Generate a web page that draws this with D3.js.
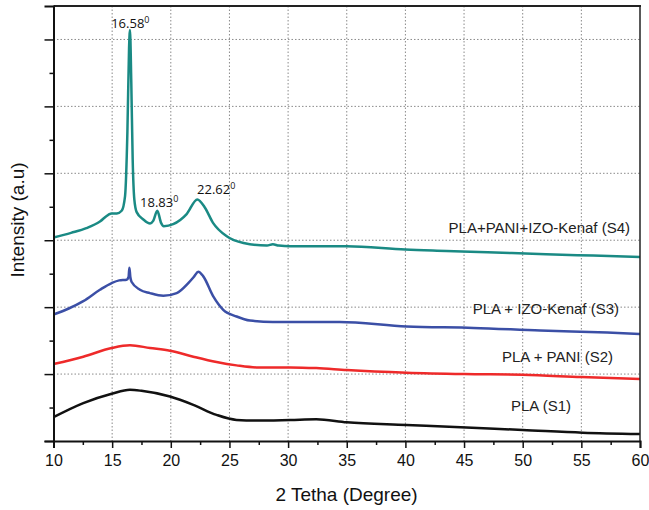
<!DOCTYPE html>
<html>
<head>
<meta charset="utf-8">
<script src="https://cdn.jsdelivr.net/npm/d3@7"></script>
<style>
html,body{margin:0;padding:0;background:#fff;}
svg{display:block;}
</style>
</head>
<body>
<script>
// ---- data ----
const xTicks = [10,15,20,25,30,35,40,45,50,55,60];
const s4x = [10,11.5,12.8,13.96,14.67,14.96,15.4,15.81,16.1,16.3,16.44,16.52,16.63,16.75,16.89,17.09,17.66,18.23,18.5,18.85,19.17,19.4,20.2,21.35,22.26,22.9,23.6,24.77,26.2,28.2,28.7,29.2,30.2,35,40,43.5,47,52,56,60];
const s4y = [3.04,3.11,3.18,3.28,3.38,3.40,3.40,3.44,3.66,4.62,5.86,6.14,5.37,4.21,3.61,3.42,3.31,3.25,3.29,3.44,3.26,3.21,3.24,3.39,3.61,3.49,3.26,3.06,2.96,2.92,2.94,2.92,2.91,2.91,2.86,2.84,2.82,2.79,2.77,2.75];
const s3x = [10,11.3,12.54,13.96,14.96,15.6,16.24,16.4,16.47,16.55,16.65,17.37,18.22,19.36,20.5,21.49,22.0,22.34,22.77,23.62,24.47,25.61,26.75,28.7,31,34.4,40.1,45.8,51.5,57.2,60];
const s3y = [1.89,1.98,2.09,2.26,2.36,2.40,2.41,2.45,2.59,2.45,2.38,2.26,2.21,2.17,2.21,2.36,2.46,2.53,2.46,2.16,1.96,1.86,1.80,1.78,1.78,1.78,1.71,1.69,1.65,1.62,1.60];
const s2x = [10,12.54,14.96,16.52,18.22,19.93,21.92,23.9,25.6,27.3,30.2,32.4,35,40.1,45,50,55,60];
const s2y = [1.15,1.26,1.39,1.43,1.39,1.35,1.26,1.18,1.13,1.10,1.10,1.09,1.06,1.02,1.00,0.99,0.955,0.925];
const s1x = [10,12.54,14.96,16.52,17.5,19.93,21.92,23.9,25.6,27.3,30.2,32.4,35,40.1,45.2,50,55.1,60];
const s1y = [0.355,0.565,0.705,0.765,0.75,0.664,0.54,0.39,0.315,0.305,0.315,0.325,0.28,0.24,0.2,0.165,0.125,0.105];
const seriesNames = ["PLA (S1)","PLA + PANI (S2)","PLA + IZO-Kenaf (S3)","PLA+PANI+IZO-Kenaf (S4)"];
const seriesColors = ["#111111","#ee2a2a","#3b4fa6","#1a8a84"];
const peakX = [16.58, 18.83, 22.62];
const peakLabels = ["16.58","18.83","22.62"];

// ---- layout ----
const W = 649, H = 510;
const mLeft = 53.5, mRight = 640, mTop = 6, mBottom = 441;
const svg = d3.select("body").append("svg").attr("width", W).attr("height", H);
const x = d3.scaleLinear().domain([10,60]).range([mLeft,mRight]);
const y = d3.scaleLinear().domain([0,6.5]).range([mBottom,mTop]);

// grid
const g = svg.append("g");
g.selectAll("line.vg").data(xTicks.slice(1,-1)).enter().append("line")
  .attr("x1", d=>x(d)).attr("x2", d=>x(d)).attr("y1", mTop).attr("y2", mBottom)
  .attr("stroke", "#8a8a8a").attr("stroke-width", 1).attr("stroke-dasharray", "1.5,2");
g.selectAll("line.hg").data([1,2,3,4,5,6]).enter().append("line")
  .attr("x1", mLeft).attr("x2", mRight).attr("y1", d=>y(d)).attr("y2", d=>y(d))
  .attr("stroke", "#8a8a8a").attr("stroke-width", 1).attr("stroke-dasharray", "1.5,2");

// series
const sets = [[s1x,s1y],[s2x,s2y],[s3x,s3y],[s4x,s4y]];
const line = d3.line().x(d=>x(d[0])).y(d=>y(d[1])).curve(d3.curveMonotoneX);
sets.forEach((s,i)=>{
  const pts = s[0].map((v,j)=>[v,s[1][j]]);
  svg.append("path").datum(pts).attr("d", line)
    .attr("fill","none").attr("stroke", seriesColors[i]).attr("stroke-width", 2.5)
    .attr("stroke-linejoin","round");
});

// frame
svg.append("line").attr("x1", mLeft).attr("x2", mRight+1).attr("y1", mTop).attr("y2", mTop)
  .attr("stroke", "#222").attr("stroke-width", 2);
svg.append("line").attr("x1", mRight).attr("x2", mRight).attr("y1", mTop).attr("y2", mBottom)
  .attr("stroke", "#222").attr("stroke-width", 1.5);

// axes
const xAxis = d3.axisBottom(x).tickValues(xTicks).tickSize(7).tickPadding(7).tickFormat(d3.format("d"));
const xg = svg.append("g").attr("transform", `translate(0,${mBottom})`).call(xAxis);
xg.select(".domain").attr("stroke","#111").attr("stroke-width",2);
xg.selectAll(".tick line").attr("stroke","#111").attr("stroke-width",1.5);
xg.selectAll(".tick text").attr("font-family","'Liberation Sans', Arial, sans-serif").attr("font-size",16).attr("fill","#111");
const xMinor = d3.axisBottom(x).tickValues(d3.range(12.5,60,5)).tickSize(4).tickFormat("");
const xmg = svg.append("g").attr("transform", `translate(0,${mBottom})`).call(xMinor);
xmg.select(".domain").remove();
xmg.selectAll(".tick line").attr("stroke","#111").attr("stroke-width",1.5);

const yAxis = d3.axisLeft(y).tickValues([0,1,2,3,4,5,6]).tickSize(9).tickFormat("");
const yg = svg.append("g").attr("transform", `translate(${mLeft},0)`).call(yAxis);
yg.select(".domain").attr("stroke","#111").attr("stroke-width",2);
yg.selectAll(".tick line").attr("stroke","#111").attr("stroke-width",1.5);
const yMinor = d3.axisLeft(y).tickValues(d3.range(0.5,6,1)).tickSize(4).tickFormat("");
const ymg = svg.append("g").attr("transform", `translate(${mLeft},0)`).call(yMinor);
ymg.select(".domain").remove();
ymg.selectAll(".tick line").attr("stroke","#111").attr("stroke-width",1.5);

// axis titles
svg.append("text").attr("x", 346.5).attr("y", 501).attr("text-anchor","middle")
  .attr("font-family","'Liberation Sans', Arial, sans-serif").attr("font-size",19).attr("fill","#111")
  .text("2 Tetha (Degree)");
svg.append("text").attr("transform","translate(24,220) rotate(-90)").attr("text-anchor","middle")
  .attr("font-family","'Liberation Sans', Arial, sans-serif").attr("font-size",19).attr("fill","#111")
  .text("Intensity (a.u)");

// series labels
const labelPos = [[571,410.5,"end"],[613,362,"end"],[619,313.5,"end"],[630,233,"end"]];
seriesNames.forEach((n,i)=>{
  svg.append("text").attr("x", labelPos[i][0]).attr("y", labelPos[i][1]).attr("text-anchor", labelPos[i][2])
    .attr("font-family","'Liberation Sans', Arial, sans-serif").attr("font-size",15).attr("fill","#222")
    .text(n);
});

// peak labels
const peakOff = [[-19.5, 28.3],[-17, 207],[-4.5, 194]];
peakLabels.forEach((t,i)=>{
  const tx = svg.append("text").attr("x", x(peakX[i]) + peakOff[i][0]).attr("y", peakOff[i][1])
    .attr("font-family","'Open Sans', 'Noto Sans', sans-serif").attr("font-size",13).attr("fill","#111");
  tx.append("tspan").text(t);
  tx.append("tspan").attr("dy",-5).attr("font-size",9).text("0");
});
</script>
</body>
</html>
